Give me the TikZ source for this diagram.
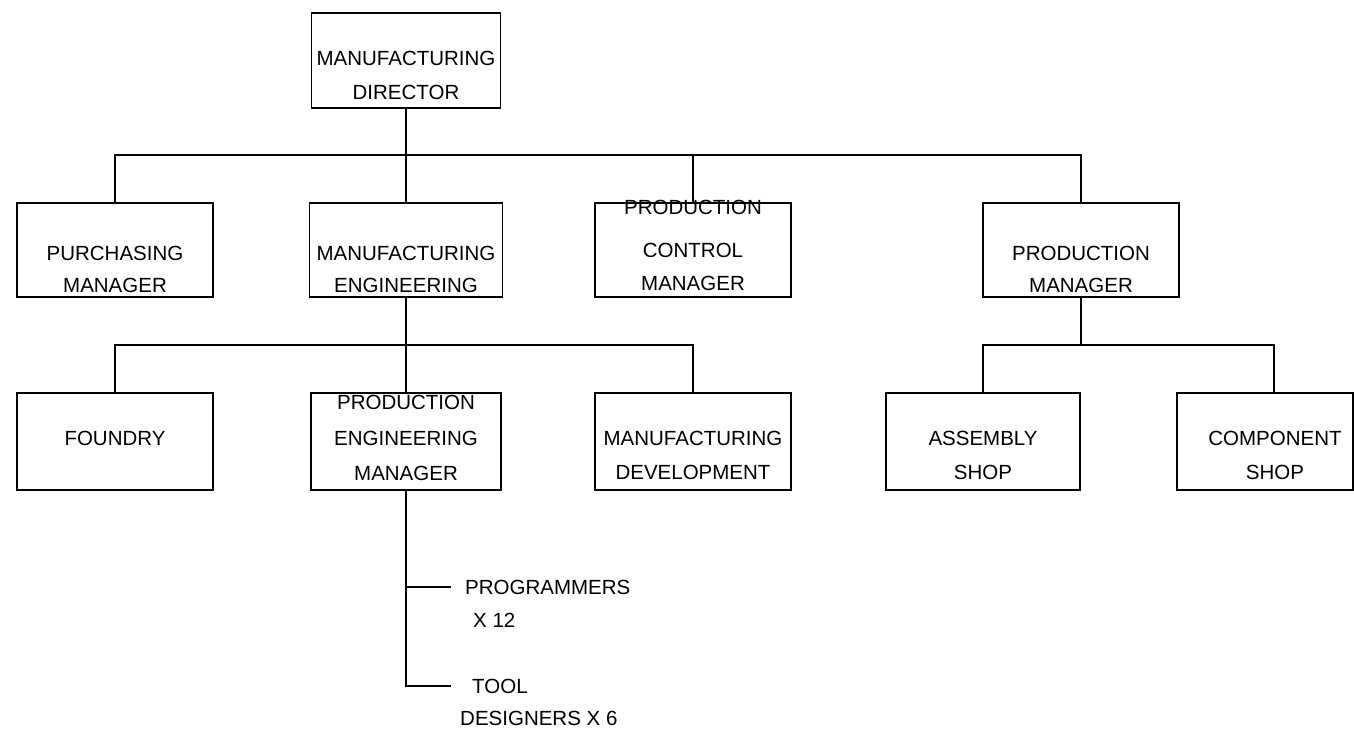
\documentclass[tikz,border=0pt]{standalone}
\usepackage{fontspec}
\setmainfont{Liberation Sans}
\begin{document}
\begin{tikzpicture}[x=1pt,y=-1pt,
  box/.style={draw,line width=1.7pt,rectangle,inner sep=0pt},
  lbl/.style={inner sep=0pt,anchor=base,font=\fontsize{20.5}{21}\selectfont},
  link/.style={line width=2.3pt}]
\useasboundingbox (0,0) rectangle (1354,732);

% boxes
\node[box,minimum width=189pt,minimum height=95pt] (dir) at (406,60.5) {};
\node[box,minimum width=196pt,minimum height=94pt] (purch) at (115,250) {};
\node[box,minimum width=193pt,minimum height=94pt] (mfgeng) at (406,250) {};
\node[box,minimum width=196pt,minimum height=94pt] (pcm) at (693,250) {};
\node[box,minimum width=196pt,minimum height=94pt] (prodmgr) at (1081,250) {};
\node[box,minimum width=196pt,minimum height=97pt] (found) at (115,441.5) {};
\node[box,minimum width=190pt,minimum height=97pt] (pem) at (406,441.5) {};
\node[box,minimum width=196pt,minimum height=97pt] (mdev) at (693,441.5) {};
\node[box,minimum width=194pt,minimum height=97pt] (asm) at (983,441.5) {};
\node[box,minimum width=176pt,minimum height=97pt] (comp) at (1265,441.5) {};

% box texts
\node[lbl] (t1a) at (406,65.5) {MANUFACTURING};
\node[lbl] (t1b) at (406,99.5) {DIRECTOR};
\node[lbl] (t2a) at (115,260.5) {PURCHASING};
\node[lbl] (t2b) at (115,292.5) {MANAGER};
\node[lbl] (t3a) at (406,260.5) {MANUFACTURING};
\node[lbl] (t3b) at (406,292.5) {ENGINEERING};
\node[lbl] (t4a) at (693,214.5) {PRODUCTION};
\node[lbl] (t4b) at (693,257.5) {CONTROL};
\node[lbl] (t4c) at (693,290.5) {MANAGER};
\node[lbl] (t5a) at (1081,260.5) {PRODUCTION};
\node[lbl] (t5b) at (1081,292.5) {MANAGER};
\node[lbl] (t6a) at (115,445.5) {FOUNDRY};
\node[lbl] (t7a) at (406,409.5) {PRODUCTION};
\node[lbl] (t7b) at (406,445.5) {ENGINEERING};
\node[lbl] (t7c) at (406,480.5) {MANAGER};
\node[lbl] (t8a) at (693,445.5) {MANUFACTURING};
\node[lbl] (t8b) at (693,479.5) {DEVELOPMENT};
\node[lbl] (t9a) at (983,445.5) {ASSEMBLY};
\node[lbl] (t9b) at (983,479.5) {SHOP};
\node[lbl] (t10a) at (1275,445.5) {COMPONENT};
\node[lbl] (t10b) at (1275,479.5) {SHOP};

% staff lines
\node[lbl,anchor=base west] (prog) at (465,594.5) {PROGRAMMERS};
\node[lbl,anchor=base west] (prog2) at (473,627.5) {X 12};
\node[lbl,anchor=base west] (tool) at (472,693.5) {TOOL};
\node[lbl,anchor=base west] (tool2) at (460,725.5) {DESIGNERS X 6};

% connectors
\coordinate (bus1) at (406,155);
\coordinate (bus2) at (406,345);
\coordinate (bus3) at (1081,345);
\coordinate (compin) at (1274,393);
\coordinate (progend) at (451,587);
\coordinate (toolend) at (451,686);

\draw[link] (dir.south) -- (mfgeng.north);
\draw[link] (purch.north) |- (bus1) -| (prodmgr.north);
\draw[link] (bus1) -| (pcm.north);
\draw[link] (mfgeng.south) -- (pem.north);
\draw[link] (found.north) |- (bus2) -| (mdev.north);
\draw[link] (prodmgr.south) -- (bus3);
\draw[link] (asm.north) |- (bus3) -| (compin);
\draw[link] (pem.south) |- (toolend);
\draw[link] (pem.south |- progend) -- (progend);
\end{tikzpicture}
\end{document}
